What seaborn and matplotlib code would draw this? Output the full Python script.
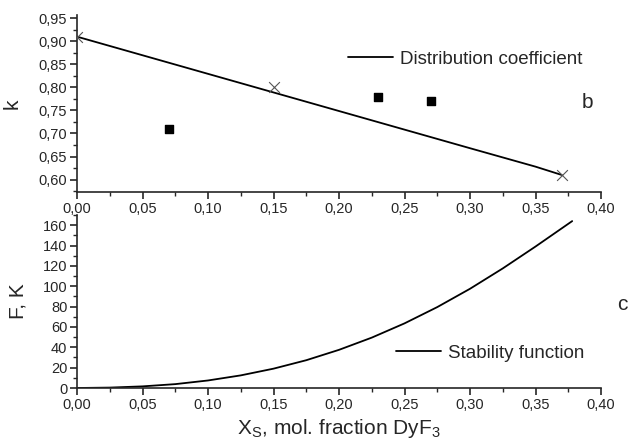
import numpy as np
import matplotlib
matplotlib.use("Agg")
import matplotlib.pyplot as plt
import seaborn as sns
from matplotlib.ticker import MultipleLocator, FuncFormatter

# distribution coefficient (panel b)
k_line_x = [0.00, 0.15, 0.30, 0.35, 0.37]
k_line_y = [0.91, 0.789, 0.668, 0.628, 0.61]
calc_x = [0.00, 0.15, 0.37]
calc_y = [0.91, 0.80, 0.61]
exp_x = [0.07, 0.23, 0.27]
exp_y = [0.71, 0.78, 0.77]

# stability function (panel c)
f_x = [0.00, 0.025, 0.05, 0.075, 0.10, 0.125, 0.15, 0.175, 0.20, 0.225,
       0.25, 0.275, 0.30, 0.325, 0.35, 0.378]
f_y = [0.0, 0.4, 1.6, 3.8, 7.4, 12.4, 19.0, 27.3, 37.5, 49.5,
       63.5, 79.5, 97.5, 117.5, 139.0, 164.0]

sns.set_style("ticks")
plt.rcParams['font.family'] = ['Liberation Sans', 'DejaVu Sans']

fig = plt.figure(figsize=(6.3, 4.48), dpi=100)
W, H = 630, 448
ax1 = fig.add_axes([77 / W, 1 - 192 / H, 524 / W, 177 / H])
ax2 = fig.add_axes([77 / W, 1 - 388 / H, 524 / W, 173 / H])

comma = lambda fmt: FuncFormatter(lambda v, p: (fmt % v).replace('.', ','))

# top panel
sns.lineplot(x=k_line_x, y=k_line_y, ax=ax1, color='black', lw=1.3,
             label='Distribution coefficient', sort=False)
ax1.scatter(calc_x, calc_y, marker='x', s=60, color='#555555', lw=0.8, zorder=3)
ax1.scatter(exp_x, exp_y, marker='s', s=30, color='black', zorder=3)
ax1.set_xlim(0, 0.40)
ax1.set_ylim(0.573, 0.957)
ax1.set_ylabel('k', fontsize=15)
ax1.legend(loc='center left', bbox_to_anchor=(0.485, 0.75), frameon=False,
           fontsize=13.5, handlelength=2.4, handletextpad=0.35)
ax1.yaxis.set_major_locator(MultipleLocator(0.05))
ax1.yaxis.set_minor_locator(MultipleLocator(0.025))
ax1.yaxis.set_major_formatter(comma('%.2f'))

# bottom panel
sns.lineplot(x=f_x, y=f_y, ax=ax2, color='black', lw=1.3,
             label='Stability function', sort=False)
ax2.set_xlim(0, 0.40)
ax2.set_ylim(0, 170)
ax2.set_ylabel('F, K', fontsize=15)
ax2.set_xlabel('X$_\\mathregular{S}$, mol. fraction DyF$_\\mathregular{3}$', fontsize=15)
ax2.legend(loc='center left', bbox_to_anchor=(0.577, 0.20), frameon=False,
           fontsize=13.5, handlelength=2.4, handletextpad=0.35)
ax2.yaxis.set_major_locator(MultipleLocator(20))
ax2.yaxis.set_minor_locator(MultipleLocator(10))
ax2.yaxis.set_major_formatter(FuncFormatter(lambda v, p: '%d' % v))

for ax in (ax1, ax2):
    sns.despine(ax=ax)
    ax.xaxis.set_major_locator(MultipleLocator(0.05))
    ax.xaxis.set_minor_locator(MultipleLocator(0.025))
    ax.xaxis.set_major_formatter(comma('%.2f'))
    ax.tick_params(which='major', direction='out', length=5, width=1.2,
                   labelsize=10.5, pad=2)
    ax.tick_params(which='minor', direction='out', length=3, width=1.0)
    for s in ('left', 'bottom'):
        ax.spines[s].set_linewidth(1.2)
    ax.patch.set_alpha(0)

ax1.yaxis.set_label_coords(-0.105, 0.5)
ax2.yaxis.set_label_coords(-0.094, 0.5)

fig.text(587 / W, 1 - 102 / H, 'b', fontsize=15, ha='center', va='center')
fig.text(622 / W, 1 - 304 / H, 'c', fontsize=15, ha='center', va='center')

fig.savefig('out.png', dpi=100)
